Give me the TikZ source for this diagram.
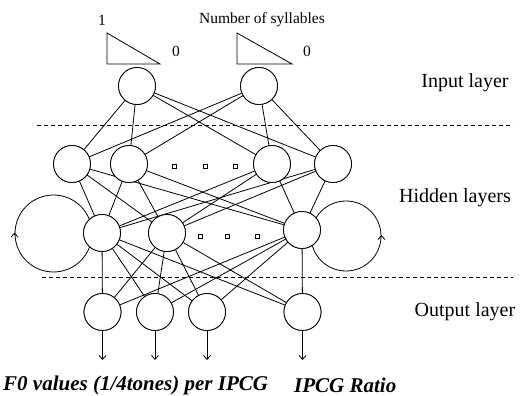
\documentclass[tikz,border=0pt]{standalone}
\usepackage{fontspec}
\setmainfont{Liberation Serif}
\usetikzlibrary{arrows.meta}
\begin{document}
\begin{tikzpicture}[x=1pt,y=-1pt,
  neuron/.style={circle,draw,fill=white,line width=0.8pt,minimum size=37pt,inner sep=0pt},
  loopc/.style={circle,draw,line width=0.8pt,inner sep=0pt},
  conn/.style={line width=0.8pt},
  sep/.style={line width=0.8pt,dash pattern=on 4pt off 3pt},
  dotsq/.style={draw,line width=0.6pt,minimum size=4pt,inner sep=0pt},
  arr/.style={line width=0.8pt,-{Straight Barb[length=4pt,width=7pt]}},
  lbl/.style={font=\fontsize{20}{24}\selectfont,inner sep=0pt},
  small/.style={font=\fontsize{15.5}{18}\selectfont,inner sep=0pt},
  outlbl/.style={font=\fontsize{21}{25}\selectfont\bfseries\itshape,inner sep=0pt,anchor=west}]
\useasboundingbox (0,0) rectangle (523,396);
% loops
\node[loopc,minimum size=77pt] (loopL) at (53.5,233.5) {};
\node[loopc,minimum size=70pt] (loopR) at (346,236) {};
\draw[arr] ([yshift=-1pt]loopL.west) -- ([yshift=1pt]loopL.west);
\draw[arr] ([yshift=-1pt]loopR.east) -- ([yshift=1pt]loopR.east);
% dashed separators
\coordinate (s1a) at (37,125); \coordinate (s1b) at (513,125);
\coordinate (s2a) at (42,277); \coordinate (s2b) at (513,277);
\draw[sep] (s1a) -- (s1b);
\draw[sep] (s2a) -- (s2b);
% nodes
\node[neuron] (i1) at (137,86) {};
\node[neuron] (i2) at (259,86) {};
\node[neuron] (h1) at (72,164) {};
\node[neuron] (h2) at (129,164) {};
\node[neuron] (h3) at (272,164) {};
\node[neuron] (h4) at (333,164) {};
\node[neuron] (g1) at (102,233) {};
\node[neuron] (g2) at (167,233) {};
\node[neuron] (g3) at (302,230) {};
\node[neuron] (o1) at (102.5,312) {};
\node[neuron] (o2) at (155,312) {};
\node[neuron] (o3) at (207,312) {};
\node[neuron] (o4) at (302.5,312) {};
% connections
\foreach \a in {i1,i2}{\foreach \b in {h1,h2,h3,h4}{\draw[conn] (\a) -- (\b);}}
\foreach \a in {h1,h2,h3,h4}{\foreach \b in {g1,g2,g3}{\draw[conn] (\a) -- (\b);}}
\foreach \a in {g1,g2,g3}{\foreach \b in {o1,o2,o3,o4}{\draw[conn] (\a) -- (\b);}}
% redraw nodes on top
\foreach \n/\x/\y in {i1/137/86,i2/259/86,h1/72/164,h2/129/164,h3/272/164,h4/333/164,g1/102/233,g2/167/233,g3/302/230,o1/102.5/312,o2/155/312,o3/207/312,o4/302.5/312}{\node[neuron] at (\x,\y) {};}
% dots
\node[dotsq] (d1) at (174,166) {};
\node[dotsq] (d2) at (205,166) {};
\node[dotsq] (d3) at (235,166) {};
\node[dotsq] (d4) at (200,236) {};
\node[dotsq] (d5) at (227,236) {};
\node[dotsq] (d6) at (257,236) {};
% output arrows
\coordinate (e1) at (102.5,360); \coordinate (e2) at (155,360);
\coordinate (e3) at (207,360); \coordinate (e4) at (302.5,360);
\draw[arr] (o1) -- (e1);
\draw[arr] (o2) -- (e2);
\draw[arr] (o3) -- (e3);
\draw[arr] (o4) -- (e4);
% input triangles
\draw[line width=0.8pt] (107,33) -- (107,64) -- (160,64) -- cycle;
\draw[line width=0.8pt] (237,33) -- (237,64) -- (292,64) -- cycle;
\node[small] (one) at (102,20) {1};
\node[small] (z1) at (176,51) {0};
\node[small] (z2) at (307,51) {0};
\node[small] (nsyl) at (262,20) {Number of syllables};
% layer labels
\node[lbl] (lin) at (465,83) {Input layer};
\node[lbl] (lhid) at (455,198) {Hidden layers};
\node[lbl] (lout) at (465,312) {Output layer};
% output labels
\node[outlbl] (f0) at (3,385) {F0 values (1/4tones) per IPCG};
\node[outlbl] (ratio) at (294,385) {IPCG Ratio};
\end{tikzpicture}
\end{document}
